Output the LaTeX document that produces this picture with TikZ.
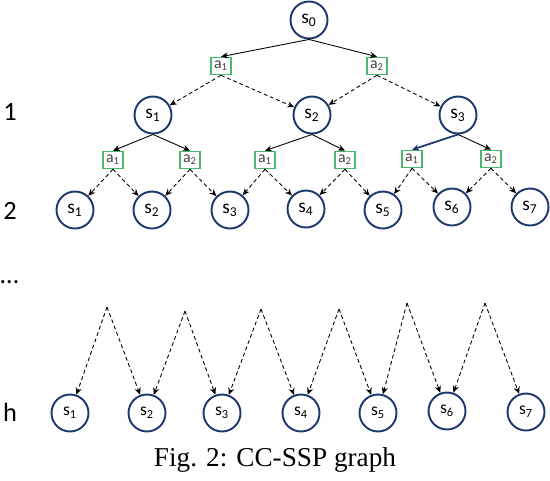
\documentclass[tikz,border=0pt]{standalone}
\usepackage{fontspec}
\setmainfont{Carlito}
\newfontfamily\capfont{Liberation Serif}
\usetikzlibrary{arrows.meta}

\definecolor{stblue}{RGB}{31,56,110}
\definecolor{actgreen}{RGB}{70,185,110}

\newcommand{\st}[1]{s\textsubscript{#1}}
\newcommand{\ac}[1]{a\textsubscript{#1}}

\tikzset{
  state/.style={circle, draw=stblue, line width=1.1pt, minimum size=0.74cm,
    inner sep=0pt, font=\fontsize{11}{12}\selectfont},
  action/.style={rectangle, draw=actgreen, line width=0.9pt, minimum width=0.40cm,
    minimum height=0.34cm, inner sep=0pt, text=black!75, font=\fontsize{9}{10}\selectfont},
  choose/.style={-{Stealth[length=4pt,width=3.5pt]}, line width=0.5pt},
  outcome/.style={choose, dash pattern=on 2.2pt off 1.6pt},
  level/.style={font=\fontsize{15}{16}\selectfont}
}

\begin{document}
\begin{tikzpicture}[x=0.02cm, y=-0.02cm]
\useasboundingbox (0,0) rectangle (550,480);

% ── ROOT ─────────────────────────────────────────────────────────────────
\node[state] (s0) at (309, 20) {\st{0}};
\node[action] (r1) at (221, 66) {\ac{1}};
\node[action] (r2) at (377, 66) {\ac{2}};

% ── LEVEL 1 ──────────────────────────────────────────────────────────────
\node[state] (u1) at (153, 115) {\st{1}};
\node[state] (u2) at (312, 115) {\st{2}};
\node[state] (u3) at (458, 115) {\st{3}};

\node[action] (b1) at (113, 160) {\ac{1}};
\node[action] (b2) at (190, 160) {\ac{2}};
\node[action] (b3) at (265, 160) {\ac{1}};
\node[action] (b4) at (345, 160) {\ac{2}};
\node[action] (b5) at (412, 159) {\ac{1}};
\node[action] (b6) at (491, 159) {\ac{2}};

% ── LEVEL 2 ──────────────────────────────────────────────────────────────
\node[state] (v1) at ( 75, 210) {\st{1}};
\node[state] (v2) at (152, 210) {\st{2}};
\node[state] (v3) at (230, 210) {\st{3}};
\node[state] (v4) at (306, 209) {\st{4}};
\node[state] (v5) at (383, 210) {\st{5}};
\node[state] (v6) at (452, 207) {\st{6}};
\node[state] (v7) at (530, 207) {\st{7}};

% ── LEVEL h ──────────────────────────────────────────────────────────────
\node[state, font=\fontsize{10}{11}\selectfont] (w1) at ( 70, 413) {\st{1}};
\node[state, font=\fontsize{10}{11}\selectfont] (w2) at (147, 413) {\st{2}};
\node[state, font=\fontsize{10}{11}\selectfont] (w3) at (222, 413) {\st{3}};
\node[state, font=\fontsize{10}{11}\selectfont] (w4) at (301, 413) {\st{4}};
\node[state, font=\fontsize{10}{11}\selectfont] (w5) at (378, 413) {\st{5}};
\node[state, font=\fontsize{10}{11}\selectfont] (w6) at (447, 411) {\st{6}};
\node[state, font=\fontsize{10}{11}\selectfont] (w7) at (526, 412) {\st{7}};

\coordinate (p1) at (107, 307);
\coordinate (p2) at (185, 311);
\coordinate (p3) at (261, 309);
\coordinate (p4) at (339, 309);
\coordinate (p5) at (407, 303);
\coordinate (p6) at (485, 303);

% ── LEVEL LABELS ─────────────────────────────────────────────────────────
\node[level] (l1) at (10, 112) {1};
\node[level] (l2) at (10, 211) {2};
\node[level, anchor=west, inner sep=0pt] (ld) at (0, 282) {\dots};
\node[level] (lh) at (10, 412) {h};

% ── EDGES ────────────────────────────────────────────────────────────────
\draw[choose] (s0.south) -- (r1.north);
\draw[choose] (s0.south) -- (r2.north);
\draw[outcome] (r1.south) -- (u1);
\draw[outcome] (r1.south) -- (u2);
\draw[outcome] (r2.south) -- (u2);
\draw[outcome] (r2.south) -- (u3);

\draw[choose] (u1.south) -- (b1.north);
\draw[choose] (u1.south) -- (b2.north);
\draw[choose] (u2.south) -- (b3.north);
\draw[choose] (u2.south) -- (b4.north);
\draw[choose, draw=stblue, line width=1pt] (u3.south) -- (b5.north);
\draw[choose] (u3.south) -- (b6.north);

\draw[outcome] (b1.south) -- (v1);
\draw[outcome] (b1.south) -- (v2);
\draw[outcome] (b2.south) -- (v2);
\draw[outcome] (b2.south) -- (v3);
\draw[outcome] (b3.south) -- (v3);
\draw[outcome] (b3.south) -- (v4);
\draw[outcome] (b4.south) -- (v4);
\draw[outcome] (b4.south) -- (v5);
\draw[outcome] (b5.south) -- (v5);
\draw[outcome] (b5.south) -- (v6);
\draw[outcome] (b6.south) -- (v6);
\draw[outcome] (b6.south) -- (v7);

\draw[outcome] (p1) -- (w1);
\draw[outcome] (p1) -- (w2);
\draw[outcome] (p2) -- (w2);
\draw[outcome] (p2) -- (w3);
\draw[outcome] (p3) -- (w3);
\draw[outcome] (p3) -- (w4);
\draw[outcome] (p4) -- (w4);
\draw[outcome] (p4) -- (w5);
\draw[outcome] (p5) -- (w5);
\draw[outcome] (p5) -- (w6);
\draw[outcome] (p6) -- (w6);
\draw[outcome] (p6) -- (w7);

% ── CAPTION ──────────────────────────────────────────────────────────────
\node[font=\capfont\fontsize{15.5}{17}\selectfont] (cap) at (275, 460) {Fig. 2: CC-SSP graph};

\end{tikzpicture}
\end{document}
